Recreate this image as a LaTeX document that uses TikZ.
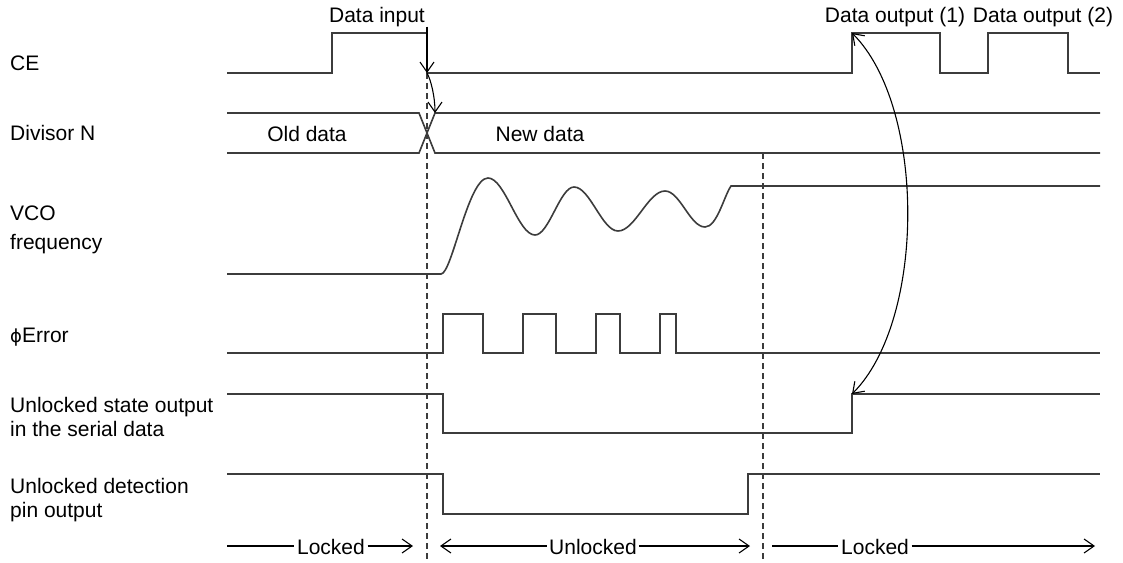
\documentclass[tikz,border=0pt]{standalone}
\usepackage{fontspec}
\setmainfont{Liberation Sans}
\newfontfamily\phifont{DejaVu Sans}
\usetikzlibrary{positioning,arrows.meta}
\definecolor{sigcol}{RGB}{60,60,60}

\begin{document}
\begin{tikzpicture}[x=1pt,y=-1pt,
    lbl/.style={font=\fontsize{21}{24}\selectfont, inner sep=0pt},
    tag/.style={font=\fontsize{21}{24}\selectfont, inner sep=2.5pt},
    sig/.style={draw=sigcol, line width=1.6pt},
    guide/.style={draw=sigcol, line width=1.6pt, dash pattern=on 6pt off 4pt},
    arr/.style={draw=black, line width=1.1pt, -{Straight Barb[length=10pt,width=14pt]}},
    darr/.style={draw=black, line width=1.1pt, {Straight Barb[length=10pt,width=14pt]}-{Straight Barb[length=10pt,width=14pt]}},
    rule/.style={draw=black, line width=1.1pt}]
\useasboundingbox (0,0) rectangle (1123,562);

\node[lbl, anchor=base west] (ce) at (10,70) {CE};
\node[lbl, anchor=base west] (divn) at (10,140) {Divisor N};
\node[lbl, anchor=base west] (vco) at (10,220) {VCO};
\node[lbl, anchor=base west] (vcofreq) at (10,249) {frequency};
\node[lbl, anchor=base west] (phierr) at (10,342) {{\phifont\fontsize{18}{24}\selectfont ϕ}Error};
\node[lbl, anchor=base west] (ustate) at (10,412) {Unlocked state output};
\node[lbl, anchor=base west] (ustate2) at (10,436) {in the serial data};
\node[lbl, anchor=base west] (udet) at (10,493) {Unlocked detection};
\node[lbl, anchor=base west] (udet2) at (10,517) {pin output};

\node[lbl, anchor=base] (olddata) at (307,141) {Old data};
\node[lbl, anchor=base] (newdata) at (540,141) {New data};
\node[lbl, anchor=base] (datain) at (377,22) {Data input};
\node[lbl, anchor=base] (dataout1) at (895,22) {Data output (1)};
\node[lbl, anchor=base] (dataout2) at (1043,22) {Data output (2)};

\draw[sig] (227,73) -- (332,73) -- (332,33) -- (427,33) -- (427,73) -- (852,73)
    -- (852,33) -- (940,33) -- (940,73) -- (988,73) -- (988,33) -- (1068,33)
    -- (1068,73) -- (1100,73);
\draw[sig] (227,113) -- (419,113) -- (435,153) -- (1100,153);
\draw[sig] (227,153) -- (419,153) -- (435,113) -- (1100,113);
\draw[sig] (227,274) -- (441,274) .. controls (452,274) and (468,178) .. (488,178)
    .. controls (505,178) and (518,235) .. (535,235)
    .. controls (549,235) and (560,187) .. (574,187)
    .. controls (590,187) and (602,231) .. (618,231)
    .. controls (635,231) and (648,191) .. (665,191)
    .. controls (680,191) and (690,227) .. (705,227)
    .. controls (717,227) and (724,196) .. (731,186) -- (1100,186);
\draw[sig] (227,353) -- (443,353) -- (443,314) -- (483,314) -- (483,353)
    -- (523,353) -- (523,314) -- (556,314) -- (556,353) -- (596,353)
    -- (596,314) -- (620,314) -- (620,353) -- (660,353) -- (660,314)
    -- (676,314) -- (676,353) -- (1100,353);
\draw[sig] (227,394) -- (443,394) -- (443,433) -- (852,433) -- (852,394) -- (1100,394);
\draw[sig] (227,474) -- (443,474) -- (443,514) -- (748,514) -- (748,474) -- (1100,474);

\draw[guide] (427,73) -- (427,562);
\draw[guide] (763,153) -- (763,562);

\coordinate (cefall) at (427,73);
\coordinate (divnew) at (435,113);
\coordinate (ceout) at (852,33);
\coordinate (usrise) at (852,394);
\draw[arr] (datain.south -| cefall) -- (cefall);
\draw[arr] (cefall) .. controls (431,80) and (435,97) .. (divnew);
\draw[darr] (usrise) .. controls (926,320) and (926,107) .. (ceout);

\coordinate (b0) at (227,546);
\coordinate (b1) at (413,546);
\coordinate (b2) at (440,546);
\coordinate (b3) at (750,546);
\coordinate (b4) at (772,546);
\coordinate (b5) at (1095,546);
\node[tag, anchor=base] (lock1) at (331,554) {Locked};
\node[tag, anchor=base] (unlock) at (593,554) {Unlocked};
\node[tag, anchor=base] (lock2) at (875,554) {Locked};
\draw[rule] (b0) -- (b0 -| lock1.west);
\draw[arr] (b0 -| lock1.east) -- (b1);
\draw[arr] (b0 -| unlock.west) -- (b2);
\draw[arr] (b0 -| unlock.east) -- (b3);
\draw[rule] (b4) -- (b4 -| lock2.west);
\draw[arr] (b4 -| lock2.east) -- (b5);
\end{tikzpicture}
\end{document}
